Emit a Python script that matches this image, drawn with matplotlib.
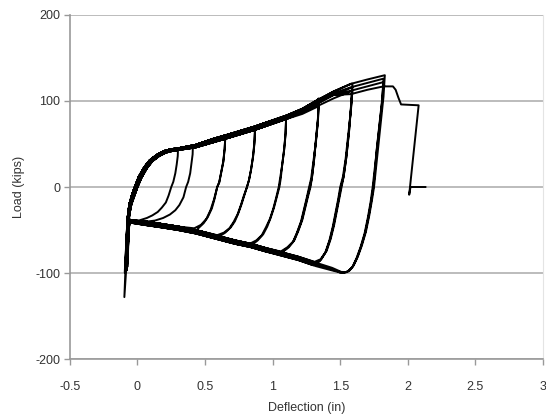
import matplotlib.pyplot as plt

plt.rcParams['font.family'] = ['Liberation Sans', 'DejaVu Sans']
plt.rcParams['axes.unicode_minus'] = False

# reloading curve from the left corner up onto the envelope (3 slightly different passes)
reload_x = [[-0.07, -0.065, -0.05, -0.03, -0.01, 0.02, 0.06, 0.10, 0.15, 0.20, 0.25],
            [-0.075, -0.07, -0.06, -0.04, -0.02, 0.01, 0.05, 0.09, 0.14, 0.19, 0.25],
            [-0.065, -0.06, -0.045, -0.02, 0.00, 0.03, 0.07, 0.11, 0.16, 0.21, 0.26]]
reload_y = [[-40, -32, -20, -9, 0, 12, 24, 32, 38, 42, 44],
            [-40, -32, -20, -9, 0, 12, 23, 31, 37, 41, 43],
            [-40, -32, -20, -9, 0, 11, 22, 30, 36, 40, 42]]

# upper envelope
env_x = [0.30, 0.43, 0.56, 0.67, 0.86, 1.10, 1.22, 1.33, 1.45, 1.58, 1.70, 1.83]
env_y = [[45, 49, 56, 61, 70, 83, 91, 101, 111, 120, 125, 130],
         [44, 47, 54, 59, 68, 81, 89, 99, 109, 118, 123, 128],
         [43, 46, 52, 57, 66, 79, 87, 97, 107, 116, 121, 126]]

# lower band, read right to left
low_x = [1.54, 1.49, 1.44, 1.32, 1.19, 1.07, 0.95, 0.84, 0.72, 0.60, 0.43, 0.30, 0.18, 0.05, -0.03, -0.06]
low_y = [[-99, -98.5, -96, -90, -83, -78, -73, -68, -64, -59, -52, -48, -45, -42, -41, -40],
         [-99, -97.5, -94, -88, -81, -76, -71, -66, -62, -57, -50, -46, -43, -40, -39, -38],
         [-99, -99, -97, -92, -85, -80, -75, -70, -66, -61, -54, -50, -47, -44, -42, -41]]

# each cycle: pass number, own upper points, unloading points, spike at the left (x, load)
cycles = [
    (0, [0.30], [45], [0.298, 0.29, 0.28, 0.265, 0.25, 0.23, 0.21, 0.18, 0.15, 0.11, 0.07, 0.03],
     [36, 26, 16, 6, 0, -10, -18, -24, -29, -33, -36, -38], -0.080, -90),
    (1, [0.41], [48], [0.408, 0.40, 0.39, 0.375, 0.36, 0.34, 0.31, 0.28, 0.24, 0.19, 0.13, 0.08],
     [38, 28, 16, 6, 0, -12, -21, -27, -32, -36, -39, -40], -0.085, -92),
    (0, [0.65], [60], [0.645, 0.635, 0.62, 0.605, 0.59, 0.57, 0.55, 0.52, 0.49, 0.45],
     [45, 30, 18, 6, 0, -14, -25, -35, -42, -48], -0.090, -95),
    (1, [0.65], [58], [0.645, 0.635, 0.62, 0.605, 0.59, 0.565, 0.54, 0.51, 0.47, 0.42],
     [44, 29, 17, 5, 0, -15, -27, -37, -44, -48], -0.075, -93),
    (0, [0.87], [70], [0.865, 0.855, 0.84, 0.825, 0.81, 0.79, 0.77, 0.745, 0.72, 0.69, 0.65, 0.61],
     [52, 36, 20, 8, 0, -10, -20, -31, -40, -47, -53, -57], -0.088, -96),
    (1, [0.87], [68], [0.865, 0.855, 0.84, 0.825, 0.81, 0.785, 0.765, 0.74, 0.71, 0.68, 0.64, 0.59],
     [50, 35, 20, 8, 0, -11, -21, -32, -41, -48, -53, -56], -0.082, -94),
    (0, [1.10], [83], [1.095, 1.085, 1.07, 1.06, 1.05, 1.03, 1.01, 0.985, 0.96, 0.93, 0.89, 0.85],
     [62, 44, 25, 10, 0, -12, -24, -36, -46, -55, -62, -67], -0.092, -97),
    (1, [1.10], [81], [1.095, 1.085, 1.07, 1.055, 1.045, 1.025, 1.005, 0.98, 0.95, 0.92, 0.88, 0.83],
     [60, 43, 25, 10, 0, -13, -25, -37, -47, -56, -62, -66], -0.078, -95),
    (0, [1.34], [103], [1.335, 1.32, 1.305, 1.29, 1.28, 1.26, 1.24, 1.22, 1.19, 1.16, 1.12, 1.07],
     [80, 55, 30, 10, 0, -12, -25, -38, -51, -62, -70, -76], -0.086, -98),
    (1, [1.22, 1.34], [87, 98], [1.335, 1.32, 1.305, 1.29, 1.275, 1.255, 1.235, 1.215, 1.185, 1.155, 1.11, 1.06],
     [78, 53, 29, 10, 0, -13, -26, -39, -52, -63, -70, -75], -0.090, -96),
    (2, [1.22, 1.34], [85, 94], [1.335, 1.32, 1.30, 1.285, 1.27, 1.25, 1.23, 1.21, 1.18, 1.15, 1.10, 1.05],
     [76, 52, 28, 10, 0, -14, -27, -40, -53, -64, -72, -78], -0.080, -97),
    (0, [1.59], [120], [1.58, 1.565, 1.545, 1.525, 1.51, 1.495, 1.475, 1.455, 1.43, 1.40, 1.36, 1.32],
     [95, 65, 35, 12, 0, -12, -28, -44, -60, -74, -84, -89], -0.094, -99),
    (1, [1.33, 1.45, 1.59], [98, 107, 116], [1.58, 1.565, 1.545, 1.525, 1.505, 1.49, 1.47, 1.45, 1.425, 1.395, 1.355, 1.31],
     [93, 64, 34, 12, 0, -13, -29, -45, -61, -75, -84, -87], -0.084, -97),
    (2, [1.33, 1.45, 1.59], [94, 103, 112], [1.58, 1.56, 1.54, 1.52, 1.50, 1.485, 1.465, 1.445, 1.42, 1.39, 1.35, 1.30],
     [91, 62, 33, 12, 0, -14, -30, -46, -62, -76, -86, -91], -0.089, -98),
    (0, [1.83], [130], [1.82, 1.80, 1.78, 1.76, 1.75, 1.735, 1.715, 1.69, 1.66, 1.63, 1.60, 1.57, 1.54],
     [105, 75, 45, 15, 0, -15, -33, -52, -68, -81, -91, -97, -99], -0.097, -128),
    (1, [1.58, 1.70, 1.82], [116, 121, 126], [1.81, 1.79, 1.77, 1.755, 1.745, 1.73, 1.71, 1.685, 1.655, 1.625, 1.595, 1.56, 1.52],
     [102, 73, 44, 15, 0, -16, -34, -53, -69, -82, -92, -98, -100], -0.093, -100),
    (2, [1.58, 1.70, 1.82], [112, 117, 122], [1.81, 1.79, 1.77, 1.75, 1.74, 1.725, 1.705, 1.68, 1.65, 1.62, 1.59, 1.55, 1.50],
     [99, 71, 43, 15, 0, -17, -35, -54, -70, -83, -93, -99, -100], -0.087, -98),
]

# last push: strength drops off and the test ends
final_x = [1.58, 1.70, 1.82, 1.89, 1.91, 1.93, 1.95, 2.08, 2.01, 2.02, 2.13]
final_y = [108, 113, 117, 117, 113, 104, 96, 95, -9, 0, 0]

xs, ys = [], []
for k, up_x, up_y, dn_x, dn_y, spike_x, spike_y in cycles:
    xs += reload_x[k] + [x for x in env_x if x < up_x[0]] + up_x + dn_x
    ys += reload_y[k] + [y for x, y in zip(env_x, env_y[k]) if x < up_x[0]] + up_y + dn_y
    xs += [x for x in low_x if x < dn_x[-1]] + [spike_x]
    ys += [y for x, y in zip(low_x, low_y[k]) if x < dn_x[-1]] + [spike_y]
xs += reload_x[2] + [x for x in env_x if x < final_x[0]] + final_x
ys += reload_y[2] + [y for x, y in zip(env_x, env_y[2]) if x < final_x[0]] + final_y

fig = plt.figure(figsize=(5.46, 4.2), dpi=100)
ax = fig.add_axes([0.128, 0.1452, 0.8665, 0.8191])

ax.plot(xs, ys, color='black', lw=1.4, solid_joinstyle='round')

ax.set_xlim(-0.5, 3)
ax.set_ylim(-200, 200)
ax.set_xticks([-0.5, 0, 0.5, 1, 1.5, 2, 2.5, 3])
ax.set_xticklabels(['-0.5', '0', '0.5', '1', '1.5', '2', '2.5', '3'])
ax.set_yticks([-200, -100, 0, 100, 200])
ax.yaxis.grid(True, color='#b0b0b0', lw=1.2)
ax.set_axisbelow(True)

for side in ['left', 'bottom']:
    ax.spines[side].set_color('#999999')
    ax.spines[side].set_linewidth(1.2)
ax.spines['top'].set_visible(False)
ax.spines['right'].set_color('#e4e4e4')

ax.tick_params(axis='both', colors='#999999', labelcolor='#333333', labelsize=9, length=4, width=1)
ax.tick_params(axis='x', pad=12)
ax.tick_params(axis='y', pad=3)

ax.set_xlabel('Deflection (in)', fontsize=9, color='#333333')
ax.set_ylabel('Load (kips)', fontsize=9, color='#333333')
ax.xaxis.set_label_coords(0.5, -0.125)
ax.yaxis.set_label_coords(-0.095, 0.5)

plt.savefig('out.png', dpi=100)
